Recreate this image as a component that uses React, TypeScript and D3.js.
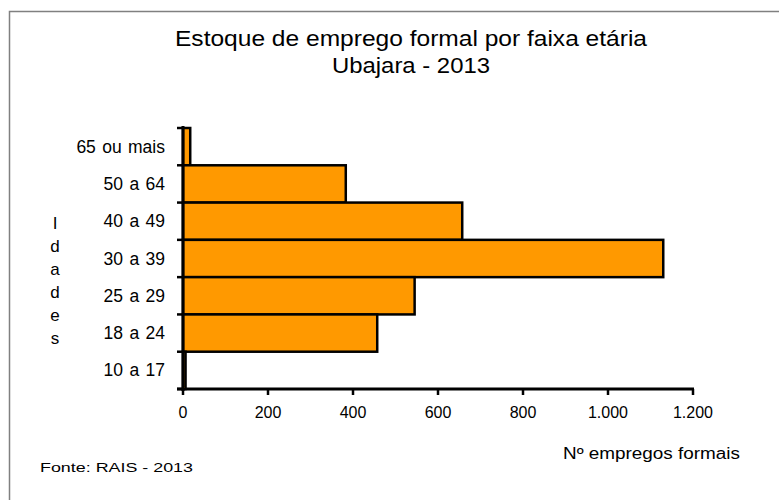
import React from "react";
import * as d3 from "d3";

const categories = ["65 ou mais", "50 a 64", "40 a 49", "30 a 39", "25 a 29", "18 a 24", "10 a 17"];
const values = [17, 383, 657, 1130, 545, 457, 6];
const xTicks = [0, 200, 400, 600, 800, 1000, 1200];
const titleLines = ["Estoque de emprego formal por faixa etária", "Ubajara - 2013"];
const yLabel = "Idades";
const xLabel = "Nº empregos formais";
const source = "Fonte: RAIS - 2013";

const fmt = (v: number) => d3.format(",")(v).replace(/,/g, ".");

export default function App() {
  const W = 779, H = 500;
  const x = d3.scaleLinear().domain([0, 1200]).range([183, 693]);
  const y = d3.scaleBand().domain(categories).range([128, 389]).padding(0);
  const font = "'Liberation Sans', Arial, sans-serif";
  return (
    <svg width={W} height={H} style={{ position: "absolute", left: 0, top: 0 }} fontFamily={font}>
      <rect x={0} y={0} width={W} height={H} fill="#fff" />
      <path d="M9.5,500 V11.5 H779" fill="none" stroke="#808080" strokeWidth={1.5} />
      {titleLines.map((t, i) => (
        <text key={i} x={411} y={46 + i * 27} textAnchor="middle" fontSize={22} fill="#000"
          textLength={i === 0 ? 472 : 158} lengthAdjust="spacingAndGlyphs">{t}</text>
      ))}
      {categories.map((c, i) => (
        <g key={c}>
          <rect x={x(0)} y={y(c)!} width={x(values[i]) - x(0)} height={y.bandwidth()}
            fill="#FF9900" stroke="#000" strokeWidth={2.5} />
          <text x={165} y={y(c)! + y.bandwidth() / 2 + 6} textAnchor="end" fontSize={17.5} wordSpacing={1.5} fill="#000">{c}</text>
        </g>
      ))}
      {/* y axis */}
      <line x1={x(0)} x2={x(0)} y1={126} y2={391} stroke="#000" strokeWidth={3} />
      {d3.range(categories.length + 1).map(i => {
        const yy = 128 + i * y.step();
        return <line key={i} x1={177} x2={x(0)} y1={yy} y2={yy} stroke="#000" strokeWidth={2.5} />;
      })}
      {/* x axis */}
      <line x1={177} x2={x(1200) + 1} y1={389} y2={389} stroke="#000" strokeWidth={3} />
      {xTicks.map(t => (
        <g key={t}>
          <line x1={x(t)} x2={x(t)} y1={389} y2={395} stroke="#000" strokeWidth={2.5} />
          <text x={x(t)} y={418} textAnchor="middle" fontSize={16} fill="#000">{fmt(t)}</text>
        </g>
      ))}
      {yLabel.split("").map((ch, i) => (
        <text key={i} x={55} y={229 + i * 23} textAnchor="middle" fontSize={17} fill="#000">{ch}</text>
      ))}
      <text x={563} y={459} fontSize={16} fill="#000" textLength={177} lengthAdjust="spacingAndGlyphs">{xLabel}</text>
      <text x={40} y={472} fontSize={13} fill="#000" textLength={153} lengthAdjust="spacingAndGlyphs">{source}</text>
    </svg>
  );
}
